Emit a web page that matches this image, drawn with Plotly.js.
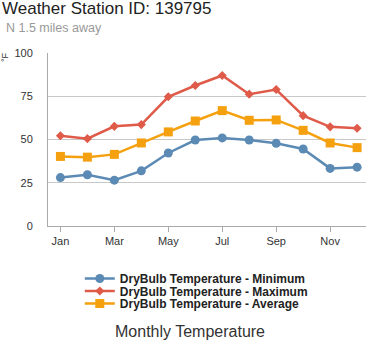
<!DOCTYPE html>
<html>
<head>
<meta charset="utf-8">
<script src="https://cdn.plot.ly/plotly-3.0.1.min.js"></script>
<style>html,body{margin:0;padding:0;background:#fff;}#chart{width:366px;height:342px;}</style>
</head>
<body>
<div id="chart"></div>
<script>
const months = ["Jan","Feb","Mar","Apr","May","Jun","Jul","Aug","Sep","Oct","Nov","Dec"];
const tickMonths = ["Jan","Mar","May","Jul","Sep","Nov"];
const tempMin = [28.0, 29.6, 26.5, 31.9, 42.2, 49.7, 50.9, 49.7, 47.8, 44.5, 33.3, 34.0];
const tempMax = [52.2, 50.5, 57.6, 58.6, 74.7, 81.2, 87.0, 76.2, 78.9, 63.8, 57.3, 56.5];
const tempAvg = [40.2, 39.8, 41.4, 48.0, 54.4, 60.7, 66.7, 61.1, 61.3, 55.3, 48.0, 45.3];
const yTicks = [0, 25, 50, 75, 100];

const FONT = "Liberation Sans, Arial, sans-serif";

const traces = [
  {x: months, y: tempMin, name: "DryBulb Temperature - Minimum", type: "scatter", mode: "lines+markers", legend: "legend",
   line: {color: "#5b8ab5", width: 2.5}, marker: {symbol: "circle", size: 9, color: "#5b8ab5"}},
  {x: months, y: tempMax, name: "DryBulb Temperature - Maximum", type: "scatter", mode: "lines+markers", legend: "legend2",
   line: {color: "#df5a49", width: 2.5}, marker: {symbol: "diamond", size: 7, color: "#df5a49"}},
  {x: months, y: tempAvg, name: "DryBulb Temperature - Average", type: "scatter", mode: "lines+markers", legend: "legend3",
   line: {color: "#f5a00f", width: 2.5}, marker: {symbol: "square", size: 9, color: "#f5a00f"}}
];

function leg(yPix) {
  return {x: 0.1, y: (226 - yPix)/173, xanchor: "left", yanchor: "middle", orientation: "v",
    font: {family: FONT, size: 12, color: "#222", weight: "bold"}, itemwidth: 30, bgcolor: "rgba(0,0,0,0)", borderwidth: 0};
}

const layout = {
  width: 366, height: 342,
  margin: {l: 48, r: 0, t: 53, b: 116},
  paper_bgcolor: "#fff", plot_bgcolor: "#fff",
  font: {family: FONT, color: "#333", size: 11},
  showlegend: true,
  legend: leg(278.5),
  legend2: leg(291),
  legend3: leg(303.5),
  xaxis: {type: "category", categoryorder: "array", categoryarray: months,
    range: [-0.46, 11.33], tickmode: "array", tickvals: tickMonths, ticktext: tickMonths,
    showgrid: false, zeroline: false, showline: true, linecolor: "#aaa", linewidth: 1,
    ticks: "outside", ticklen: 5, tickcolor: "#aaa", tickfont: {size: 11, color: "#333"}, fixedrange: true},
  yaxis: {range: [0, 100], tickmode: "array", tickvals: yTicks, ticktext: yTicks.map(String),
    showgrid: true, gridcolor: "#c8c8c8", gridwidth: 1, zeroline: false, showline: true, linecolor: "#aaa",
    ticks: "", ticklabelstandoff: 12, tickfont: {size: 11, color: "#333"}, fixedrange: true},
  annotations: [
    {text: "Weather Station ID: 139795", xref: "paper", yref: "paper", x: -48/318, y: 1 + (53 - 8)/173,
     xanchor: "left", yanchor: "middle", showarrow: false, font: {family: FONT, size: 17, color: "#222"}},
    {text: "N 1.5 miles away", xref: "paper", yref: "paper", x: -44/318, y: 1 + (53 - 28)/173,
     xanchor: "left", yanchor: "middle", showarrow: false, font: {family: FONT, size: 12.5, color: "#999"}},
    {text: "°F", xref: "paper", yref: "paper", x: -43/318, y: 1 + (53 - 57)/173, textangle: -90,
     xanchor: "center", yanchor: "middle", showarrow: false, font: {family: FONT, size: 9, color: "#333"}},
    {text: "Monthly Temperature", xref: "paper", yref: "paper", x: (190 - 48)/318, y: -(331 - 226)/173,
     xanchor: "center", yanchor: "middle", showarrow: false, font: {family: FONT, size: 16, color: "#333"}}
  ]
};

Plotly.newPlot("chart", traces, layout, {displayModeBar: false, staticPlot: true});
</script>
</body>
</html>
